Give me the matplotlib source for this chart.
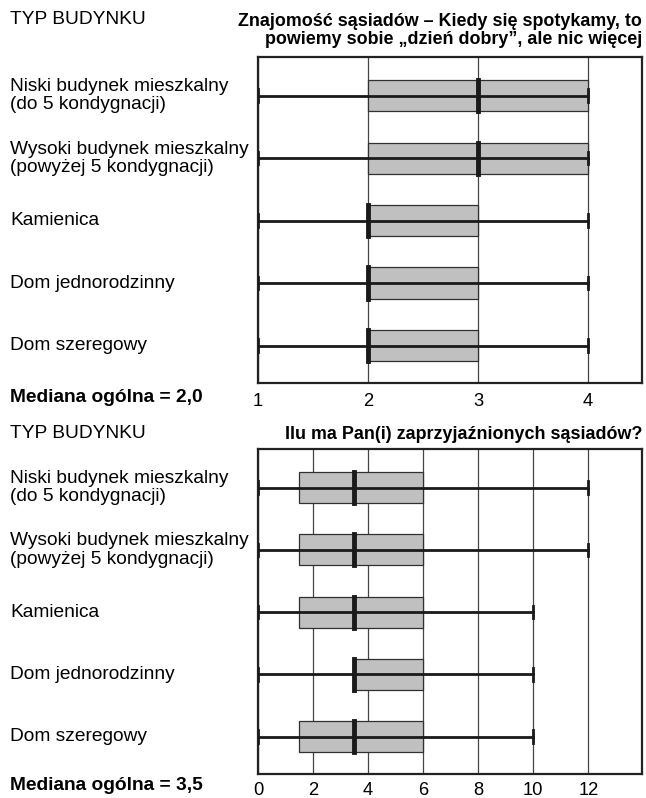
import numpy as np
import matplotlib.pyplot as plt
import matplotlib.transforms as mtransforms

plt.rcParams['font.family'] = ['Liberation Sans', 'DejaVu Sans']

# building types (top to bottom)
categories = ['Niski budynek mieszkalny\n(do 5 kondygnacji)',
              'Wysoki budynek mieszkalny\n(powyżej 5 kondygnacji)',
              'Kamienica',
              'Dom jednorodzinny',
              'Dom szeregowy']

# panel 1: min, q1, median, q3, max
top_min = [1, 1, 1, 1, 1]
top_q1 = [2, 2, 2, 2, 2]
top_med = [3, 3, 2, 2, 2]
top_q3 = [4, 4, 3, 3, 3]
top_max = [4, 4, 4, 4, 4]
top_ticks = [1, 2, 3, 4]

# panel 2
bot_min = [0, 0, 0, 0, 0]
bot_q1 = [1.5, 1.5, 1.5, 3.5, 1.5]
bot_med = [3.5, 3.5, 3.5, 3.5, 3.5]
bot_q3 = [6, 6, 6, 6, 6]
bot_max = [12, 12, 10, 10, 10]
bot_ticks = [0, 2, 4, 6, 8, 10, 12]

W, H = 646, 798
fig = plt.figure(figsize=(W / 100, H / 100), dpi=100)
ax1 = fig.add_axes([0.3994, 0.520, 0.5944, 0.4086])
ax2 = fig.add_axes([0.3994, 0.0301, 0.5944, 0.4072])

LAB_FS = 13.8


def draw_panel(ax, mins, q1, med, q3, maxs, ticks, xlim, title, title_pad, head_y,
               median_txt, med_y, tick_pad):
    n = len(categories)
    ys = np.arange(n)
    for y, lo, a, m, b, hi in zip(ys, mins, q1, med, q3, maxs):
        ax.barh(y, b - a, left=a, height=0.5, color='#c0c0c0',
                edgecolor='#303030', linewidth=0.9, zorder=2)
        ax.plot([lo, hi], [y, y], color='#1a1a1a', lw=2.0, zorder=3)
        ax.plot([lo, lo], [y - 0.1, y + 0.1], color='#1a1a1a', lw=2.0, zorder=3)
        ax.plot([hi, hi], [y - 0.1, y + 0.1], color='#1a1a1a', lw=2.0, zorder=3)
        ax.plot([m, m], [y - 0.25, y + 0.25], color='#1a1a1a', lw=3.5, zorder=4)
    ax.set_xlim(*xlim)
    ax.set_ylim(n - 0.4, -0.62)
    ax.set_xticks(ticks)
    ax.set_xticklabels([str(t) for t in ticks], fontsize=13.2)
    ax.tick_params(axis='x', length=0, pad=tick_pad)
    ax.set_yticks([])
    ax.grid(axis='x', color='#444444', lw=0.9, zorder=0)
    ax.set_axisbelow(True)
    for s in ax.spines.values():
        s.set_linewidth(1.6)
        s.set_color('#222222')
    ax.set_title(title, loc='right', fontsize=12.9, fontweight='bold', pad=title_pad,
                 linespacing=1.05)
    tr = mtransforms.blended_transform_factory(fig.transFigure, ax.transData)
    for y, lab in zip(ys, categories):
        ax.text(0.0155, y, lab, transform=tr, ha='left', va='center',
                fontsize=LAB_FS, linespacing=1.1)
    fig.text(0.0155, 1 - head_y / H, 'TYP BUDYNKU', ha='left', va='center',
             fontsize=LAB_FS)
    fig.text(0.0155, 1 - med_y / H, median_txt, ha='left', va='center',
             fontsize=LAB_FS, fontweight='bold')


draw_panel(ax1, top_min, top_q1, top_med, top_q3, top_max, top_ticks, (1, 4.49),
           'Znajomość sąsiadów – Kiedy się spotykamy, to\npowiemy sobie „dzień dobry”, ale nic więcej',
           9.5, 20, 'Mediana ogólna = 2,0', 397, 7.5)
draw_panel(ax2, bot_min, bot_q1, bot_med, bot_q3, bot_max, bot_ticks, (0, 13.95),
           'Ilu ma Pan(i) zaprzyjaźnionych sąsiadów?',
           7.5, 433, 'Mediana ogólna = 3,5', 786, 5.5)

fig.savefig('out.png', dpi=100)
